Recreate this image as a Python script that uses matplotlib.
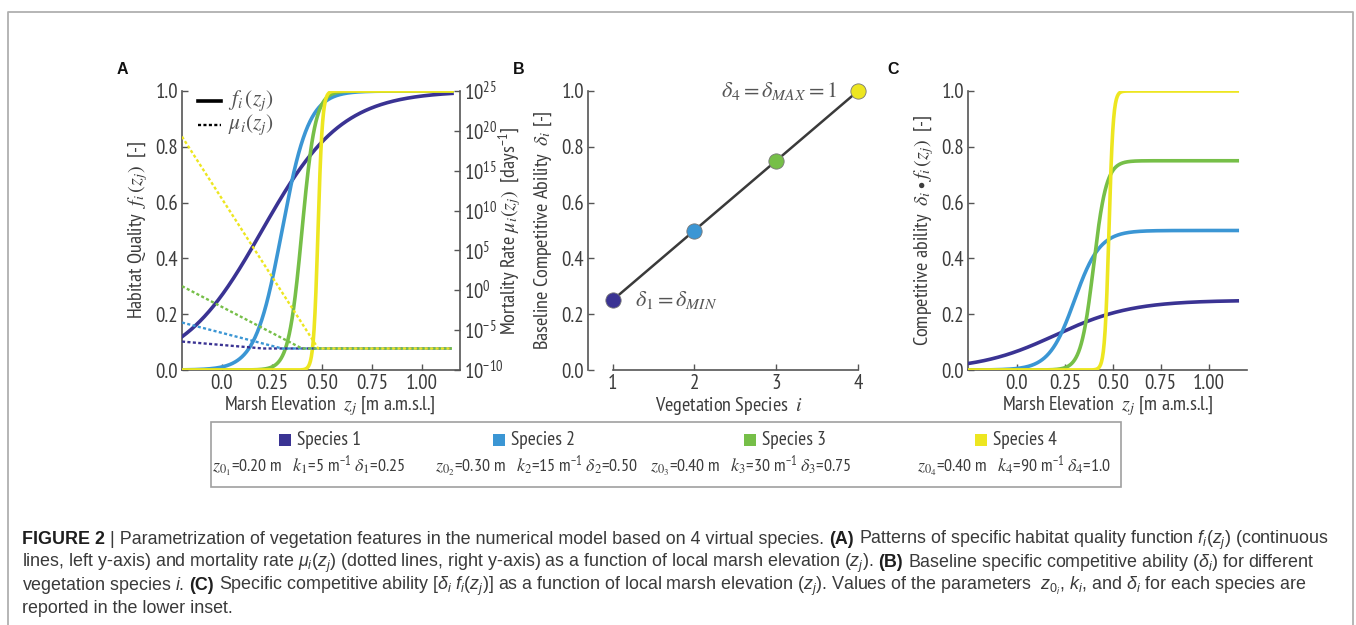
import numpy as np
import matplotlib
matplotlib.use("Agg")
import matplotlib.pyplot as plt
from matplotlib.lines import Line2D
from matplotlib.patches import Rectangle
from matplotlib.ticker import FixedLocator, FuncFormatter

W, H = 1356, 625

plt.rcParams['font.family'] = ['PT Sans Narrow', 'DejaVu Sans']
plt.rcParams['mathtext.fontset'] = 'stix'
plt.rcParams['mathtext.rm'] = 'Liberation Sans'
plt.rcParams['mathtext.it'] = 'Liberation Sans:italic'
plt.rcParams['mathtext.bf'] = 'Liberation Sans:bold'

# species parameters
species = ["Species 1", "Species 2", "Species 3", "Species 4"]
colors = ["#3a3393", "#3b96d4", "#76bf48", "#ede620"]
z0 = [0.20, 0.30, 0.40, 0.48]        # midpoint of the habitat curve [m]
k = [5, 15, 30, 90]                  # steepness [1/m]
delta = [0.25, 0.50, 0.75, 1.0]
mu_min = 5e-8                        # background mortality [1/day]
param_text = [
    r"$z_{0_1}$=0.20 m   $k_1$=5 $\mathregular{m^{-1}}$ $\delta_1$=0.25",
    r"$z_{0_2}$=0.30 m   $k_2$=15 $\mathregular{m^{-1}}$ $\delta_2$=0.50",
    r"$z_{0_3}$=0.40 m   $k_3$=30 $\mathregular{m^{-1}}$ $\delta_3$=0.75",
    r"$z_{0_4}$=0.40 m   $k_4$=90 $\mathregular{m^{-1}}$ $\delta_4$=1.0",
]
x_ticks = [0.0, 0.25, 0.50, 0.75, 1.00]
x_ticklabels = ["0.0", "0.25", "0.50", "0.75", "1.00"]
y_ticks = [0.0, 0.2, 0.4, 0.6, 0.8, 1.0]
mu_exp = [-10, -5, 0, 5, 10, 15, 20, 25]

GREY = "#555555"
TXT = "#3c3c3c"
DOTS = (0, (1.3, 1.0))


def habitat(z, i):
    return 1.0 / (1.0 + np.exp(-k[i] * (z - z0[i])))


def mortality(z, i):
    return mu_min * np.exp(np.clip(k[i] * (z0[i] - z), 0, None))


def rect(x0, y0, x1, y1):
    return [x0 / W, 1 - y1 / H, (x1 - x0) / W, (y1 - y0) / H]


def style(ax, spines):
    for s in ["top", "right", "left", "bottom"]:
        ax.spines[s].set_visible(s in spines)
        ax.spines[s].set_color(GREY)
        ax.spines[s].set_linewidth(1.2)
    ax.tick_params(direction="in", length=4, width=1, colors=GREY,
                   labelcolor=TXT, labelsize=15, pad=3)
    ax.set_facecolor("none")


fig = plt.figure(figsize=(W / 100, H / 100), dpi=100)

# ---- A: habitat quality and mortality
axA = fig.add_axes(rect(182, 91, 460, 370))
zA = np.linspace(-0.2, 1.15, 600)
for i in range(4):
    axA.plot(zA, habitat(zA, i), color=colors[i], lw=2.6, zorder=3)
axA.set_xlim(-0.2, 1.19)
axA.set_ylim(0, 1)
axA.set_xticks(x_ticks, x_ticklabels)
axA.set_yticks(y_ticks, [f"{v:.1f}" for v in y_ticks])
style(axA, ["left", "bottom"])
axA.set_xlabel(r"Marsh Elevation  $z_j$ [m a.m.s.l.]", fontsize=14.5, color=TXT, labelpad=1)
axA.xaxis.label.set_x(0.53)
axA.set_ylabel(r"Habitat Quality  $f_i\,(z_j)$  [-]", fontsize=14.5, color=TXT, labelpad=4)

axM = axA.twinx()
for i in range(4):
    axM.plot(zA, mortality(zA, i), color=colors[i], lw=1.7, ls=DOTS, zorder=2)
axM.set_yscale("log")
axM.set_ylim(1e-10, 1e25)
axM.yaxis.set_major_locator(FixedLocator([10.0 ** e for e in mu_exp]))
axM.yaxis.set_minor_locator(FixedLocator([]))
axM.yaxis.set_major_formatter(FuncFormatter(
    lambda v, p: r"$\mathregular{10^{%d}}$" % round(np.log10(v))))
style(axM, ["right"])
axM.set_ylabel(r"Mortality Rate $\mu_i(z_j)$  [days$^{\mathregular{-1}}$]",
               fontsize=14.5, color=TXT, labelpad=-5)

# line-style key in the corner of A
for yk, lw, ls, lab in [(0.964, 2.6, "-", r"$f_i\,(z_j)$"),
                        (0.878, 1.7, DOTS, r"$\mu_i(z_j)$")]:
    axA.plot([0.058, 0.140], [yk, yk], transform=axA.transAxes, color="k",
             lw=lw, ls=ls, clip_on=False)
    axA.text(0.165, yk, lab, transform=axA.transAxes, fontsize=15.5,
             va="center", color=GREY)

# ---- B: baseline competitive ability
axB = fig.add_axes(rect(588, 91, 870, 370))
idx = np.arange(1, 5)
axB.plot(idx, delta, color="#3a3a3a", lw=1.8, zorder=2)
for i in range(4):
    axB.plot(idx[i], delta[i], "o", ms=11, color=colors[i], mec="#777777",
             mew=0.6, zorder=3, clip_on=False)
axB.set_xlim(0.70, 4.147)
axB.set_ylim(0, 1)
axB.set_xticks(idx)
axB.set_yticks(y_ticks, [f"{v:.1f}" for v in y_ticks])
style(axB, ["left", "bottom"])
axB.spines["bottom"].set_bounds(1, 4)
axB.set_xlabel(r"Vegetation Species  $i$", fontsize=14.5, color=TXT, labelpad=1)
axB.set_ylabel(r"Baseline Competitive Ability  $\delta_i$ [-]", fontsize=14.5,
               color=TXT, labelpad=5)
axB.text(3.75, delta[3], r"$\delta_4 = \delta_{MAX} = 1$", ha="right", va="center",
         fontsize=16, color=GREY)
axB.text(1.27, delta[0], r"$\delta_1 = \delta_{MIN}$", ha="left", va="center",
         fontsize=16, color=GREY)

# ---- C: competitive ability along elevation
axC = fig.add_axes(rect(968, 91, 1247, 370))
zC = np.linspace(-0.256, 1.15, 600)
for i in range(4):
    axC.plot(zC, delta[i] * habitat(zC, i), color=colors[i], lw=2.6, zorder=3)
axC.set_xlim(-0.256, 1.201)
axC.set_ylim(0, 1)
axC.set_xticks(x_ticks, x_ticklabels)
axC.set_yticks(y_ticks, [f"{v:.1f}" for v in y_ticks])
style(axC, ["left", "bottom"])
axC.set_xlabel(r"Marsh Elevation  $z_j$ [m a.m.s.l.]", fontsize=14.5, color=TXT, labelpad=1)
axC.set_ylabel(r"Competitive ability  $\delta_i \bullet f_i\,(z_j)$  [-]", fontsize=14.5,
               color=TXT, labelpad=4)

for lab, xp in zip("ABC", [122, 519, 893]):
    fig.text(xp / W, 1 - 70 / H, lab, fontsize=11.5, fontweight="bold",
             family="Liberation Sans", ha="center", va="center", color="#111111")

# ---- species inset
fig.patches.append(Rectangle((211 / W, 1 - 487 / H), 910 / W, 65 / H,
                             transform=fig.transFigure, fill=False,
                             ec="#a0a0a0", lw=1.2))
sq_x = [279, 493, 744, 975]
par_x = [212, 435, 650, 917]
for i in range(4):
    fig.patches.append(Rectangle((sq_x[i] / W, 1 - 446 / H), 12 / W, 12 / H,
                                 transform=fig.transFigure, color=colors[i], lw=0))
    fig.text((sq_x[i] + 18) / W, 1 - 440 / H, species[i], fontsize=14,
             va="center", color=TXT)
    fig.text(par_x[i] / W, 1 - 466 / H, param_text[i], fontsize=13,
             va="center", color=TXT)

# ---- frame around the figure
fr = dict(color="#b0b0b0", lw=1.3, transform=fig.transFigure)
fig.lines.append(Line2D([8 / W, 8 / W, 1353 / W, 1353 / W],
                        [0, 1 - 12 / H, 1 - 12 / H, 0], **fr))

# ---- caption
cap = dict(family="Liberation Sans", fontsize=12.9, va="baseline",
           math_fontfamily="custom")
renderer = fig.canvas.get_renderer()


def width(s, weight):
    t = fig.text(0, 0, s, fontweight=weight, **cap)
    w = t.get_window_extent(renderer=renderer).width
    t.remove()
    return w / W


space = width("x x", "normal") - width("xx", "normal")


def runs(y, parts):
    x = 22 / W
    for s, wt in parts:
        fig.text(x, 1 - y / H, s, fontweight=wt,
                 color="#1e1e1e" if wt == "bold" else "#3a3a3a", **cap)
        x += width(s, wt) + space


B_, N_ = "bold", "normal"
runs(544, [("FIGURE 2", B_),
           ("| Parametrization of vegetation features in the numerical model based on 4 virtual species.", N_),
           ("(A)", B_),
           (r"Patterns of specific habitat quality function $f_i(z_j)$ (continuous", N_)])
runs(567, [(r"lines, left y-axis) and mortality rate $\mu_i(z_j)$ (dotted lines, right y-axis) as a function of local marsh elevation $(z_j)$.", N_),
           ("(B)", B_),
           (r"Baseline specific competitive ability ($\delta_i$) for different", N_)])
runs(590, [(r"vegetation species $i$.", N_),
           ("(C)", B_),
           (r"Specific competitive ability [$\delta_i$ $f_i(z_j)$] as a function of local marsh elevation ($z_j$). Values of the parameters  $z_{0_i}$, $k_i$, and $\delta_i$ for each species are", N_)])
runs(613, [("reported in the lower inset.", N_)])

fig.savefig("out.png", dpi=100)
